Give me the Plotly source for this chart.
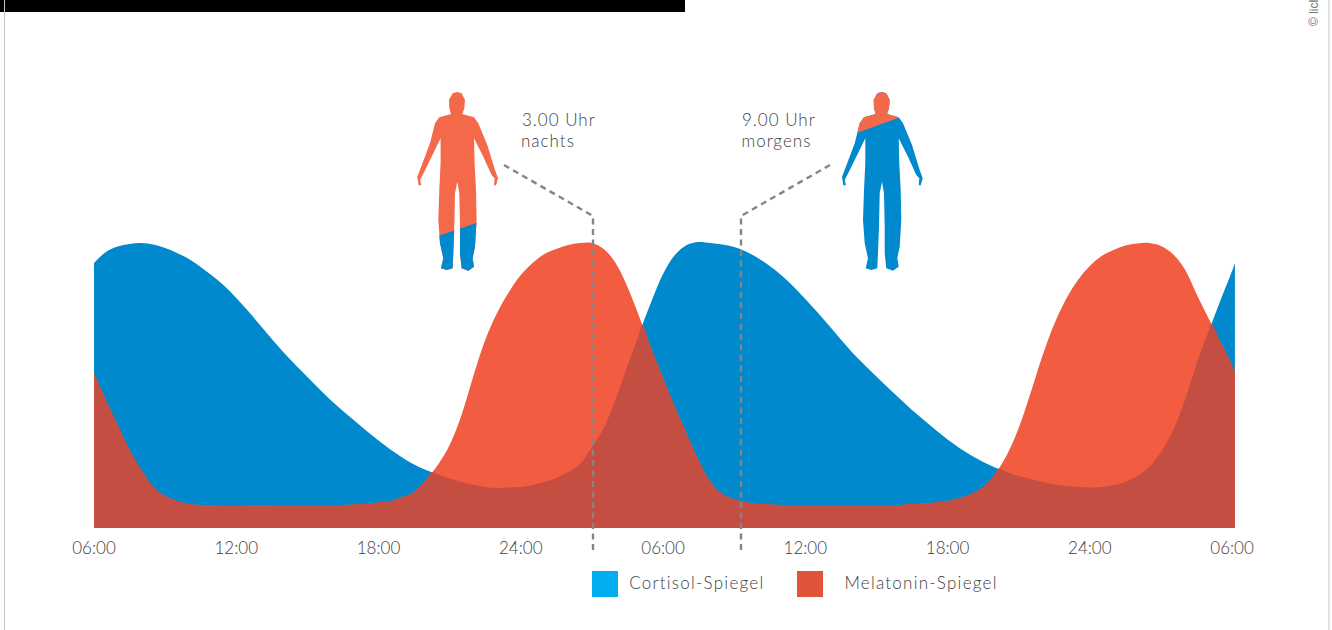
import numpy as np
import plotly.graph_objects as go

# ---------- data (hours since 06:00; level in chart units) ----------
hours = [i * 0.5 for i in range(97)] + [48.12]
cortisol = [265,276,281.5,284,285,283.5,280,275,269,261,252,242,230,217,203,189,175.5,163,151,139,
            127.5,117,107,97,87.5,78.5,70.5,63.5,58,53.5,49.5,46,43,41,40,40.5,41,43,46,50,
            56,64,81,100,129,162,195,226,254,273,283,286,285,283.5,281,276.5,270,262,252.5,241.5,
            229,216,202.5,188.5,175,163,151.5,140,129,118,108,98,88.5,80,72.5,66,60.5,56,52,49,
            46,43.5,42,41,40.5,41,43,46,52,61,76,97,127,164,196,227,257,265]
melatonin = [155,128,103,78,58,41,32,27,24,23,22.5,22,22,22.5,22.5,23,23,23,23,23,
             23,23,23.5,24,25.5,27,31,36,48,63,83,113,152,188,215,236,253,265,274,279,
             283,285,285,279,265,241,211,180,150,121,94,68,46,34,29,26,24,23.5,23,23,
             23,23,23,23,23,23,23,23,23,24,24.5,25.5,27,30,34,41,54,73,100,135,
             172,204,229,248,262,272,278,282.5,284.5,285,282,274,259,234,210,187,163,156]
tick_hours = [0, 6, 12, 18, 24, 30, 36, 42, 48]
tick_labels = ["06:00", "12:00", "18:00", "24:00", "06:00", "12:00", "18:00", "24:00", "06:00"]
series_names = ["Cortisol-Spiegel", "Melatonin-Spiegel"]

BLUE, RED, MIX = "#0089CC", "#F25C40", "#C54E42"
FIG_ORANGE = "#F4694A"
TXT = "#3E3E3E"
FONT = "Lato"


def overlap(x, a, b):
    """Lower envelope of the two series, with their crossings added."""
    ox, oy = [], []
    for i in range(len(x)):
        ox.append(x[i]); oy.append(min(a[i], b[i]))
        if i + 1 < len(x):
            d0, d1 = a[i] - b[i], a[i + 1] - b[i + 1]
            if d0 * d1 < 0:
                t = d0 / (d0 - d1)
                ox.append(x[i] + t * (x[i + 1] - x[i]))
                oy.append(a[i] + t * (a[i + 1] - a[i]))
    return ox, oy


ox, oy = overlap(hours, cortisol, melatonin)

fig = go.Figure()
for xs, ys, col, name in [(hours, cortisol, BLUE, series_names[0]),
                          (hours, melatonin, RED, series_names[1]),
                          (ox, oy, MIX, "Overlap")]:
    fig.add_trace(go.Scatter(x=xs, y=ys, mode="lines", fill="tozeroy", fillcolor=col,
                             line=dict(width=0, color=col, shape="spline", smoothing=1.0), name=name,
                             showlegend=False, hoverinfo="skip"))
# empty trace that brings up the pixel-space overlay axes used for decoration
fig.add_trace(go.Scatter(x=[None], y=[None], xaxis="x2", yaxis="y2", showlegend=False))

# ---------- silhouette outline in overlay pixels, relative to head centre ----------
BODY = [(172,36),(185,40),(195,60),(193,85),(187,102),(222,112),(235,130),(262,195),(285,270),(294,295),
        (288,316),(282,316),(284,295),(275,285),(250,230),(222,175),(224,250),(228,330),(230,420),(225,500),
        (218,535),(222,560),(205,572),(185,565),(180,520),(180,440),(178,340),(172,305),(165,340),(163,440),
        (160,520),(158,565),(140,570),(123,565),(130,535),(120,490),(115,420),(118,330),(122,250),(122,175),
        (95,230),(68,285),(60,300),(64,316),(56,316),(52,290),(62,265),(90,190),(105,130),(118,112),
        (153,102),(148,85),(147,60),(158,40)]
BODY = [((zx - 172) / 3.0, 80 + zy / 3.0) for zx, zy in BODY]


def clip(poly, p, q, keep_below):
    """Sutherland-Hodgman clip of poly against the line p-q."""
    def side(pt):
        v = (q[0]-p[0])*(pt[1]-p[1]) - (q[1]-p[1])*(pt[0]-p[0])
        return v if keep_below else -v
    out = []
    for i, a in enumerate(poly):
        b = poly[(i + 1) % len(poly)]
        sa, sb = side(a), side(b)
        if sa >= 0:
            out.append(a)
        if sa * sb < 0:
            t = sa / (sa - sb)
            out.append((a[0] + t*(b[0]-a[0]), a[1] + t*(b[1]-a[1])))
    return out


def path(poly, cx=0):
    return "M" + "L".join(f"{x+cx:.1f},{y:.1f}" for x, y in poly) + "Z"


P = dict(xref="x2", yref="y2")
CX1, CX2 = 457.3, 882.0
DASH = dict(color="#858585", width=2.4, dash="6px,4.5px")
shapes = [
    dict(type="rect", x0=0, x1=685, y0=0, y1=12, fillcolor="#000000", line_width=0, **P),
    dict(type="line", x0=4.5, x1=4.5, y0=0, y1=630, line=dict(color="#C4C4C4", width=1), **P),
    dict(type="line", x0=1329, x1=1329, y0=0, y1=630, line=dict(color="#E2E2E2", width=2), **P),
    dict(type="path", path=path(BODY, CX1), fillcolor=FIG_ORANGE, line_width=0, **P),
    dict(type="path", path=path(clip(BODY, (-19, 236), (20, 222.7), True), CX1), fillcolor=BLUE, line_width=0, **P),
    dict(type="path", path=path(BODY, CX2), fillcolor=BLUE, line_width=0, **P),
    dict(type="path", path=path(clip(BODY, (-26, 133.3), (18, 117.3), False), CX2), fillcolor=FIG_ORANGE, line_width=0, **P),
    dict(type="path", path="M504,165L593,216L593,553", fillcolor="rgba(0,0,0,0)", line=DASH, **P),
    dict(type="path", path="M830,165L741,216L741,553", fillcolor="rgba(0,0,0,0)", line=DASH, **P),
    dict(type="rect", x0=592, x1=618, y0=571, y1=597, fillcolor="#00AEEF", line_width=0, **P),
    dict(type="rect", x0=797, x1=823, y0=571, y1=597, fillcolor="#E0553A", line_width=0, **P),
]


def label(x, y, text, size=17):
    return dict(x=x, y=y, text=text, showarrow=False, xanchor="left", yanchor="middle",
                font=dict(family=FONT, size=size, weight=300, color=TXT), xref="x2", yref="y2")


annotations = [
    label(523.5, 119, "3.00 Uhr"), label(522, 140, "nachts"),
    label(743.5, 119, "9.00 Uhr"), label(742.5, 140, "morgens"),
    label(637, 582.5, series_names[0]), label(852.5, 582.5, series_names[1]),
    dict(x=1314, y=28, text="© lich", textangle=-90, showarrow=False, xanchor="center", yanchor="bottom",
         font=dict(family="Liberation Sans", size=12, color="#777777"), xref="x2", yref="y2"),
]

PX_PER_HOUR = 23.71
fig.update_layout(
    width=1332, height=630, margin=dict(l=0, r=0, t=0, b=0),
    paper_bgcolor="white", plot_bgcolor="rgba(0,0,0,0)", showlegend=False,
    shapes=shapes, annotations=annotations, hovermode=False,
    xaxis=dict(domain=[0, 1], range=[-94 / PX_PER_HOUR, (1332 - 94) / PX_PER_HOUR],
               tickmode="array", tickvals=tick_hours, ticktext=tick_labels,
               showgrid=False, zeroline=False, showline=False,
               ticks="outside", ticklen=5, tickcolor="rgba(0,0,0,0)",
               tickfont=dict(family=FONT, size=17, weight=300, color=TXT)),
    yaxis=dict(domain=[102 / 630, 1], range=[0, 528], visible=False),
    xaxis2=dict(domain=[0, 1], range=[0, 1332], visible=False, anchor="y2"),
    yaxis2=dict(domain=[0, 1], range=[630, 0], visible=False, anchor="x2"),
)

fig.write_html("out.html", config=dict(displayModeBar=False),
               post_script="document.body.style.margin='0';document.body.style.overflow='hidden';"
                           "document.querySelectorAll('.annotation-text').forEach(function(t){"
                           "if(t.textContent.indexOf('lich')<0){t.style.letterSpacing="
                           "(t.textContent.indexOf('Spiegel')>=0?'1.25px':'1px');}});")
